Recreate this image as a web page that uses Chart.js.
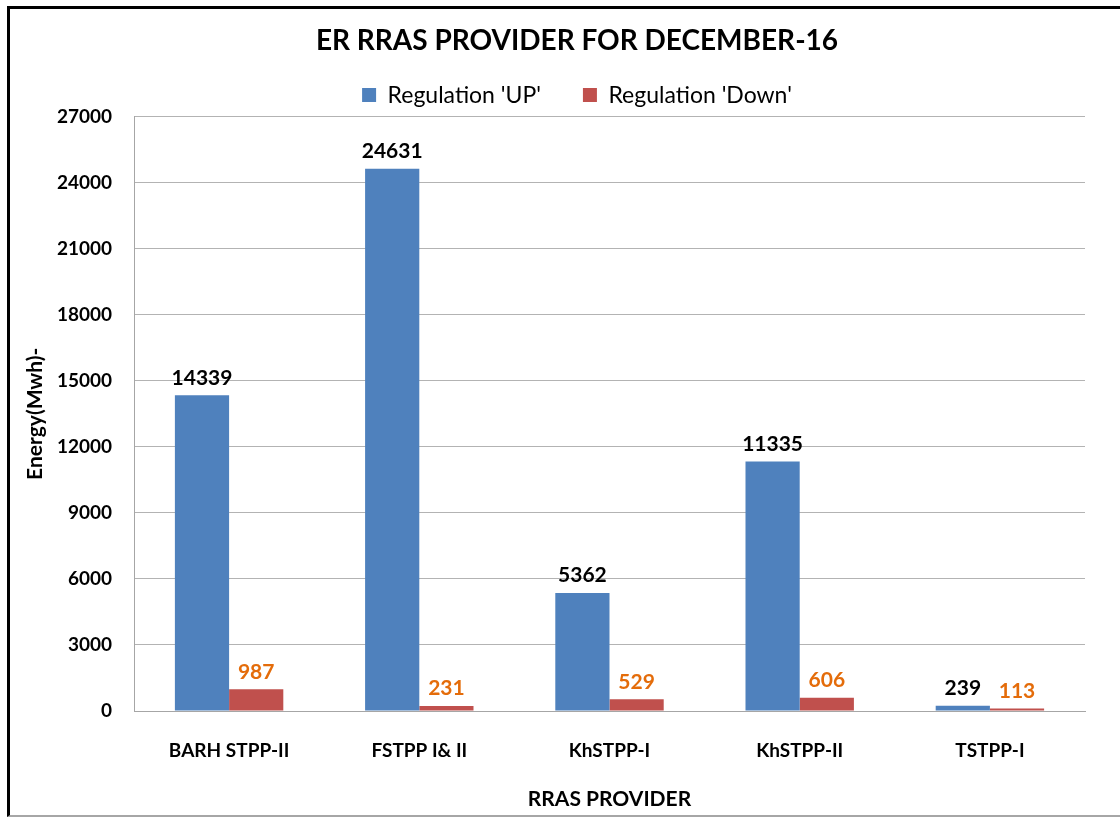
<!DOCTYPE html>
<html lang="en">

<head>
  <meta charset="UTF-8">
  <title>ER RRAS Provider</title>
  <script src="https://cdn.jsdelivr.net/npm/chart.js@4.4.1/dist/chart.umd.min.js"></script>
  <style>
    html, body { margin: 0; padding: 0; overflow: hidden; background: #fff; }
    #frame {
      position: absolute; left: 7px; top: 6px; width: 1200px; height: 806px;
      border-left: 3px solid #000; border-top: 3px solid #000; border-bottom: 2px solid #a6a6a6;
    }
    #wrap { position: absolute; left: 0; top: 0; width: 1154px; height: 817px; }
  </style>
</head>

<body>
  <div id="frame"></div>
  <div id="wrap">
    <canvas id="rras-chart"></canvas>
  </div>

  <script>
    // valores
    var providers = ["BARH STPP-II", "FSTPP I& II", "KhSTPP-I", "KhSTPP-II", "TSTPP-I"];
    var regulationUp = [14339, 24631, 5362, 11335, 239];
    var regulationDown = [987, 231, 529, 606, 113];
    var seriesNames = ["Regulation 'UP'", "Regulation 'Down'"];
    var yTicks = { min: 0, max: 27000, step: 3000 };

    var FONT = "Lato, 'DejaVu Sans', sans-serif";
    var labelColors = ["#000000", "#E46C0A"];

    // escreve o valor por cima de cada barra
    var valueLabels = {
      id: 'valueLabels',
      afterDatasetsDraw(chart) {
        const ctx = chart.ctx;
        ctx.save();
        ctx.font = "bold 21px " + FONT;
        ctx.textAlign = 'center';
        ctx.textBaseline = 'bottom';
        chart.data.datasets.forEach((ds, i) => {
          chart.getDatasetMeta(i).data.forEach((bar, j) => {
            ctx.fillStyle = labelColors[i];
            ctx.fillText(ds.data[j], bar.x, bar.y - 7);
          });
        });
        ctx.restore();
      }
    };

    var chart = new Chart("rras-chart", {
      type: "bar",
      data: {
        labels: providers,
        datasets: [
          {
            label: seriesNames[0],
            data: regulationUp,
            backgroundColor: "#4F81BD",
            borderWidth: 0,
            barPercentage: 1.0,
            categoryPercentage: 0.57
          },
          {
            label: seriesNames[1],
            data: regulationDown,
            backgroundColor: "#C0504D",
            borderWidth: 0,
            barPercentage: 1.0,
            categoryPercentage: 0.57
          }
        ]
      },
      options: {
        responsive: true,
        maintainAspectRatio: false,
        animation: false,
        layout: { padding: { left: 8, right: 8, top: 0, bottom: 0 } },
        plugins: {
          title: {
            display: true,
            text: "ER RRAS PROVIDER FOR DECEMBER-16",
            color: "#000",
            font: { family: FONT, size: 28, weight: "bold" },
            padding: { top: 24, bottom: -16 }
          },
          legend: {
            display: true,
            labels: {
              color: "#000",
              font: { family: FONT, size: 23 },
              boxWidth: 14,
              boxHeight: 14,
              padding: 42
            }
          },
          tooltip: { enabled: false }
        },
        scales: {
          x: {
            grid: { display: false },
            border: { display: true, color: "#a6a6a6" },
            ticks: {
              color: "#000",
              font: { family: FONT, size: 19, weight: "bold" },
              padding: 20,
              maxRotation: 0
            },
            title: {
              display: true,
              text: "RRAS PROVIDER",
              color: "#000",
              font: { family: FONT, size: 21, weight: "bold" },
              padding: { top: 0, bottom: 5 }
            },
            afterFit(s) { s.height = 106; }
          },
          y: {
            min: yTicks.min,
            max: yTicks.max,
            grid: { color: "#b3b3b3", drawTicks: false },
            border: { display: true, color: "#a6a6a6" },
            ticks: {
              stepSize: yTicks.step,
              color: "#000",
              font: { family: FONT, size: 19, weight: "bold" },
              padding: 22,
              callback: v => v
            },
            title: {
              display: true,
              text: "Energy(Mwh)-",
              color: "#000",
              font: { family: FONT, size: 21, weight: "bold" },
              padding: { top: 15, bottom: 0 }
            },
            afterFit(s) { s.width = 126; }
          },
          // eixo vazio só para reservar espaço à direita
          y2: {
            position: "right",
            display: true,
            grid: { display: false },
            border: { display: false },
            ticks: { display: false },
            afterFit(s) { s.width = 61; }
          }
        }
      },
      plugins: [valueLabels]
    });
  </script>
</body>

</html>
